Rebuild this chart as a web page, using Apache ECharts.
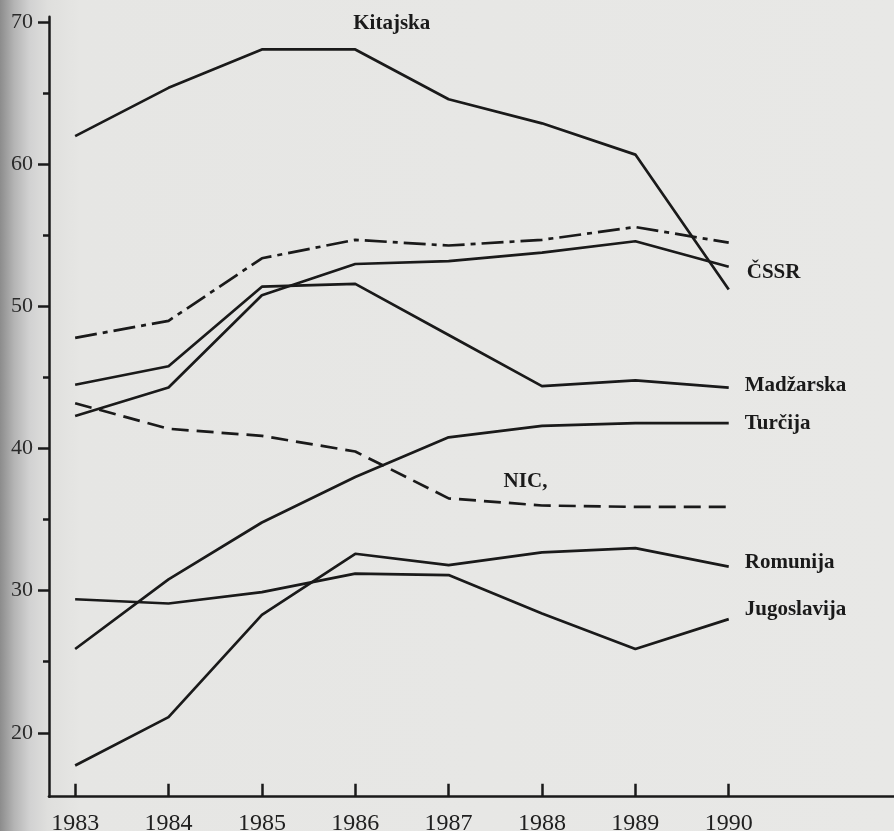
<!DOCTYPE html>
<html>
<head>
<meta charset="utf-8">
<script src="https://cdn.jsdelivr.net/npm/echarts@6/dist/echarts.min.js"></script>
<style>
html,body{margin:0;padding:0;}
#c{width:894px;height:831px;background:linear-gradient(to right,#8c8c8c 0px,#b4b4b4 14px,#d2d2d2 30px,#dfdfdd 48px,#e6e6e4 80px,#e8e8e6 100%);}
</style>
</head>
<body>
<div id="c"></div>
<script>
const years = [1983, 1984, 1985, 1986, 1987, 1988, 1989, 1990];
const yTickLabels = [20, 30, 40, 50, 60, 70];
const yMinorTicks = [25, 35, 45, 55, 65];

const kitajska    = [62.0, 65.4, 68.1, 68.1, 64.6, 62.9, 60.7, 51.2];
const dashDot     = [47.8, 49.0, 53.4, 54.7, 54.3, 54.7, 55.6, 54.5];
const cssr        = [42.3, 44.3, 50.8, 53.0, 53.2, 53.8, 54.6, 52.8];
const madzarska   = [44.5, 45.8, 51.4, 51.6, 48.0, 44.4, 44.8, 44.3];
const turcija     = [25.9, 30.8, 34.8, 38.0, 40.8, 41.6, 41.8, 41.8];
const nic         = [43.2, 41.4, 40.9, 39.8, 36.5, 36.0, 35.9, 35.9];
const romunija    = [17.7, 21.1, 28.3, 32.6, 31.8, 32.7, 33.0, 31.7];
const jugoslavija = [29.4, 29.1, 29.9, 31.2, 31.1, 28.4, 25.9, 28.0];

const INK = '#1a1a1a';
const labelFont = {fontFamily: 'Liberation Serif', fontWeight: 'bold', fontSize: 21, color: '#1a1a1a'};

function mkData(vals, labelIdx, text, offset) {
  return vals.map((v, i) => {
    const item = {value: [years[i], v]};
    if (i === labelIdx) {
      item.label = Object.assign({show: true, position: 'right', distance: 0, offset: offset, formatter: text}, labelFont);
    }
    return item;
  });
}

function line(name, vals, type, labelIdx, offset) {
  return {
    name: name,
    type: 'line',
    data: mkData(vals, labelIdx, name, offset),
    symbol: 'circle',
    symbolSize: 0,
    showSymbol: true,
    silent: true,
    label: {show: false},
    lineStyle: {color: INK, width: 2.7, type: type, cap: 'butt', join: 'round'},
    itemStyle: {color: INK},
    z: 3
  };
}

const chart = echarts.init(document.getElementById('c'), null, {renderer: 'canvas'});
chart.setOption({
  animation: false,
  backgroundColor: 'transparent',
  grid: {left: 49, right: 0, top: 16.8, bottom: 34.3, containLabel: false, outerBoundsMode: 'none'},
  xAxis: {
    type: 'value',
    min: 1982.72,
    max: 1991.77,
    axisLine: {show: true, onZero: false, lineStyle: {color: INK, width: 2.7}},
    axisTick: {show: true, inside: true, length: 13, customValues: years, lineStyle: {color: INK, width: 2.5}},
    axisLabel: {show: true, customValues: years, margin: 15, fontFamily: 'Liberation Serif', fontSize: 24, color: '#202020', formatter: v => String(v)},
    splitLine: {show: false}
  },
  yAxis: [{
    type: 'value',
    min: 15.5,
    max: 70.4,
    axisLine: {show: true, onZero: false, lineStyle: {color: INK, width: 2.5}},
    axisTick: {show: true, inside: false, length: 11, customValues: yTickLabels, lineStyle: {color: INK, width: 2.5}},
    axisLabel: {show: true, customValues: yTickLabels, margin: 16, fontFamily: 'Liberation Serif', fontSize: 22, color: '#2a2a2a', verticalAlign: 'middle', padding: [4, 0, 0, 0]},
    splitLine: {show: false}
  }, {
    type: 'value',
    min: 15.5,
    max: 70.4,
    position: 'left',
    axisLine: {show: false},
    axisTick: {show: true, inside: false, length: 6, customValues: yMinorTicks, lineStyle: {color: INK, width: 2.5}},
    axisLabel: {show: false, customValues: yMinorTicks},
    splitLine: {show: false}
  }],
  series: [
    line('Kitajska', kitajska, 'solid', 3, [-2, -26]),
    line('', dashDot, [22, 6, 5, 6], -1, [0, 0]),
    line('ČSSR', cssr, 'solid', 7, [18, 6]),
    line('Madžarska', madzarska, 'solid', 7, [16, -2]),
    line('Turčija', turcija, 'solid', 7, [16, 0]),
    line('NIC,', nic, [17, 8], 4, [55, -17]),
    line('Romunija', romunija, 'solid', 7, [16, -4]),
    line('Jugoslavija', jugoslavija, 'solid', 7, [16, -10])
  ]
});
</script>
</body>
</html>
